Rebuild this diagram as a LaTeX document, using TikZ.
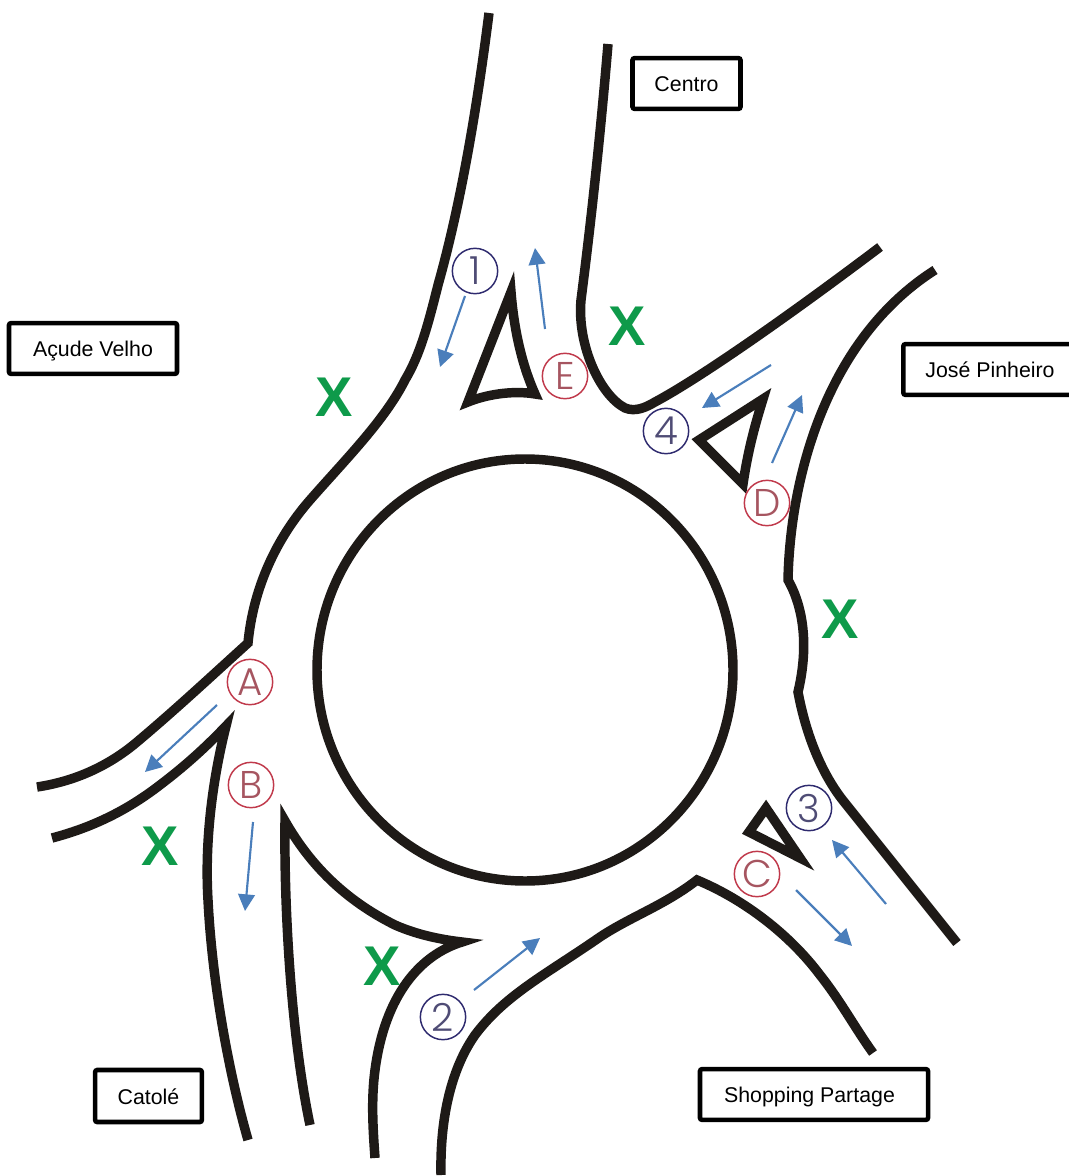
\documentclass[tikz,border=0pt]{standalone}
\usepackage{fontspec}
\setmainfont{Liberation Sans}
\newfontfamily\thinfont{Poppins Light}
\usetikzlibrary{arrows.meta}
\definecolor{roadblack}{HTML}{1E1A17}
\definecolor{flowblue}{HTML}{4A7EBB}
\definecolor{markgreen}{HTML}{0E9A4A}
\definecolor{ringred}{HTML}{C0394B}
\definecolor{ringnavy}{HTML}{2E2A6E}
\tikzset{
  road/.style={draw=roadblack,line width=7.1pt,line cap=butt,line join=miter,miter limit=20},
  island/.style={road},
  flow/.style={draw=flowblue,line width=1.6pt,-{Triangle[length=12.5pt,width=12.5pt]}},
  placebox/.style={draw=black,line width=3.4pt,rounded corners=1.5pt,fill=white,inner sep=0pt,text height=13pt,text depth=1pt,font=\fontsize{16}{18}\selectfont,text=black},
  redring/.style={circle,draw=ringred,line width=1.1pt,minimum size=34pt,inner sep=0pt,font=\thinfont\fontsize{29}{30}\selectfont,text=ringred!60!gray},
  navyring/.style={circle,draw=ringnavy,line width=1.1pt,minimum size=34pt,inner sep=0pt,font=\thinfont\fontsize{29}{30}\selectfont,text=ringnavy!60!gray},
  noentry/.style={inner sep=0pt,text=markgreen,font=\fontsize{42}{44}\selectfont\bfseries},
}
\begin{document}
\begin{tikzpicture}[x=0.75pt,y=-0.75pt]
\useasboundingbox (0,0) rectangle (1069,1176);
% central island
\draw[road] (525,670) ellipse [x radius=208,y radius=211];
% top-left road edge into the left branch
\draw[road] (489,13) .. controls (478,100) and (462,200) .. (438,285)
  .. controls (428,325) and (420,355) .. (405,380)
  .. controls (385,420) and (345,460) .. (310,500)
  .. controls (275,540) and (253,590) .. (248,643)
  .. controls (205,682) and (175,710) .. (137,742)
  .. controls (105,769) and (70,782) .. (37,787);
% left branch lower edge
\draw[road] (52,838) .. controls (90,828) and (125,812) .. (160,785)
  .. controls (185,766) and (205,748) .. (226,726)
  .. controls (210,790) and (205,850) .. (208,900)
  .. controls (212,980) and (228,1070) .. (248,1140);
% south island
\draw[road] (310,1125) .. controls (290,1030) and (284,900) .. (285,821)
  .. controls (310,865) and (345,900) .. (395,925)
  .. controls (420,936) and (445,940) .. (462,942)
  .. controls (420,955) and (385,995) .. (375,1070)
  .. controls (371,1100) and (373,1130) .. (375,1158);
% south road and south-east branch
\draw[road] (441,1175) .. controls (440,1130) and (447,1075) .. (475,1035)
  .. controls (505,995) and (545,975) .. (600,937)
  .. controls (630,917) and (665,905) .. (697,880)
  .. controls (745,900) and (790,935) .. (820,975)
  .. controls (840,1000) and (855,1028) .. (873,1053);
% east side
\draw[road] (957,943) -- (845,803) .. controls (822,775) and (806,735) .. (798,692)
  .. controls (808,650) and (805,610) .. (788,580)
  .. controls (790,480) and (825,340) .. (935,270);
% centro right edge to north-east branch
\draw[road] (608,44) .. controls (600,140) and (590,230) .. (581,300)
  .. controls (577,345) and (600,395) .. (625,408)
  .. controls (635,412) and (645,408) .. (655,402)
  .. controls (700,378) and (790,315) .. (880,247);
% splitter islands
\draw[island] (511,292) .. controls (514,330) and (522,365) .. (535,394) .. controls (512,390) and (485,395) .. (468,402) -- cycle;
\draw[island] (763,399) -- (699,440) -- (743,484) .. controls (748,450) and (755,425) .. (763,399) -- cycle;
\draw[island] (766,808) -- (749,832) -- (800,858) -- cycle;
% labelled circles
\node[navyring] (n1) at (475,271) {1};
\node[redring]  (nE) at (565,376) {E};
\node[navyring] (n4) at (666,431) {4};
\node[redring]  (nD) at (767,503) {D};
\node[redring]  (nA) at (250,682) {A};
\node[redring]  (nB) at (251,785) {B};
\node[navyring] (n3) at (809,808) {3};
\node[redring]  (nC) at (757,874) {C};
\node[navyring] (n2) at (443,1017) {2};
% green marks
\node[noentry] (x1) at (334,397) {X};
\node[noentry] (x2) at (627,326) {X};
\node[noentry] (x3) at (840,619) {X};
\node[noentry] (x4) at (160,846) {X};
\node[noentry] (x5) at (382,966) {X};
% place boxes
\node[placebox,minimum width=81pt,minimum height=38pt] (centro) at (686.5,83.5) {Centro};
\node[placebox,minimum width=126pt,minimum height=38pt] (acude) at (93,348.5) {Açude Velho};
\node[placebox,minimum width=130pt,minimum height=38pt] (jose) at (990,369.5) {José Pinheiro};
\node[placebox,minimum width=80pt,minimum height=39pt] (catole) at (148.5,1096) {Catolé};
\node[placebox,minimum width=171pt,minimum height=38pt] (shopping) at (814,1094.5) {Shopping Partage\hspace*{6.75pt}};
% flow arrows
\coordinate (a1s) at (465,296); \coordinate (a1e) at (440,367);
\coordinate (a2s) at (545,329); \coordinate (a2e) at (535,248);
\coordinate (a3s) at (771,365); \coordinate (a3e) at (702,408);
\coordinate (a4s) at (772,463); \coordinate (a4e) at (802,395);
\coordinate (a5s) at (217,705); \coordinate (a5e) at (145,772);
\coordinate (a6s) at (253,822); \coordinate (a6e) at (245,911);
\coordinate (a7s) at (474,990); \coordinate (a7e) at (540,938);
\coordinate (a8s) at (886,904); \coordinate (a8e) at (832,840);
\coordinate (a9s) at (796,890); \coordinate (a9e) at (852,946);
\draw[flow] (a1s) -- (a1e);
\draw[flow] (a2s) -- (a2e);
\draw[flow] (a3s) -- (a3e);
\draw[flow] (a4s) -- (a4e);
\draw[flow] (a5s) -- (a5e);
\draw[flow] (a6s) -- (a6e);
\draw[flow] (a7s) -- (a7e);
\draw[flow] (a8s) -- (a8e);
\draw[flow] (a9s) -- (a9e);
\end{tikzpicture}
\end{document}
